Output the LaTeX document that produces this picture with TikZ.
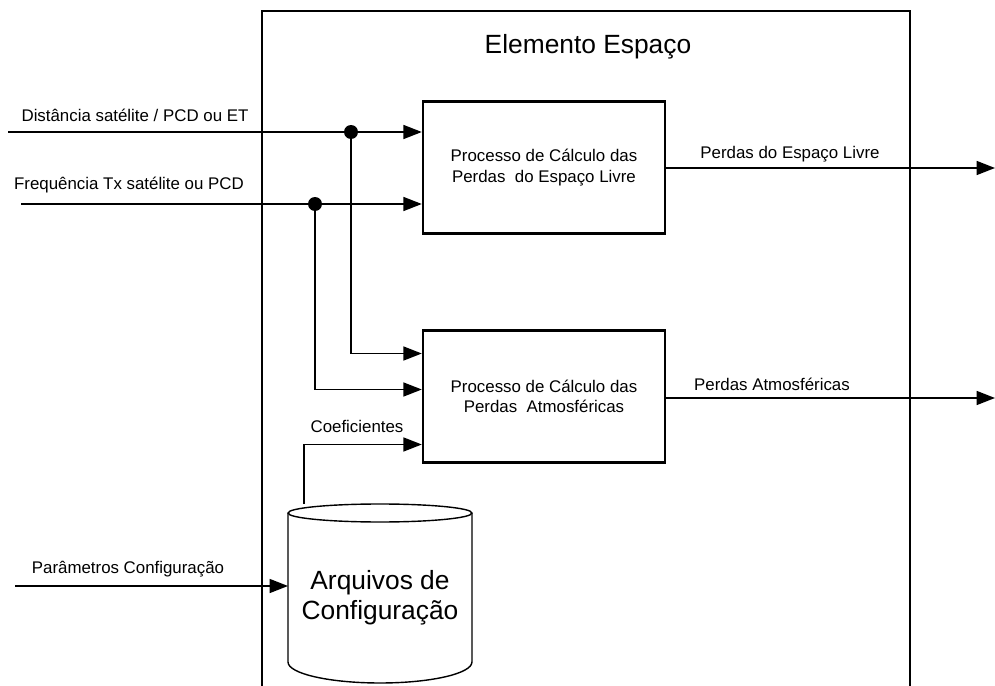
\documentclass[tikz,border=0pt]{standalone}
\usepackage{fontspec}
\setmainfont{Liberation Sans}
\usetikzlibrary{arrows.meta}
\usetikzlibrary{calc}

\begin{document}
\begin{tikzpicture}[x=0.02cm,y=-0.02cm,
    proc/.style={draw,line width=1.4pt,minimum width=4.84cm,minimum height=2.64cm,align=center,font=\fontsize{9.6}{11.5}\selectfont},
    arr/.style={line width=0.8pt,-{Triangle[length=10.5pt,width=8pt]}},
    lbl/.style={font=\fontsize{9.6}{11.5}\selectfont,inner sep=0pt}]
    \useasboundingbox (0,0) rectangle (995,686);
    % elemento espaco
    \draw[line width=0.6pt] (262,686) --(262,11) --(910,11) --(910,686);
    \node[font=\fontsize{15}{17}\selectfont] (titulo) at (588,47) {Elemento Espaço};

    \node[proc] (livre) at (544,167.5) {Processo de Cálculo das\\Perdas\ \ do Espaço Livre};
    \node[proc] (atmos) at (544,396.5) {Processo de Cálculo das\\Perdas\ \ Atmosféricas};

    % entradas
    \coordinate (dist) at (8,132);
    \coordinate (freq) at (21,204);
    \coordinate (par) at (15,586);
    \node[lbl] (distlbl) at (135,115) {Distância satélite / PCD ou ET};
    \node[lbl] (freqlbl) at (129,185) {Frequência Tx satélite ou PCD};
    \node[lbl] (parlbl) at (128,569) {Parâmetros Configuração};
    \draw[arr] (dist) --(dist -| livre.west);
    \draw[arr] (freq) --(freq -| livre.west);

    \coordinate (j1) at (351,132);
    \coordinate (j2) at (315,204);
    \fill (j1) circle (0.14cm);
    \fill (j2) circle (0.14cm);
    \draw[arr] (j1) |- ([yshift=0.86cm]atmos.west);
    \draw[arr] (j2) |- ([yshift=0.14cm]atmos.west);

    % saidas
    \coordinate (out1) at (995,168);
    \coordinate (out2) at (995,398);
    \draw[arr] (livre.east |- out1) --(out1);
    \draw[arr] (atmos.east |- out2) --(out2);
    \node[lbl] (livrelbl) at (790,154) {Perdas do Espaço Livre};
    \node[lbl] (atmoslbl) at (772,384) {Perdas Atmosféricas};

    % arquivos
    \draw[line width=0.8pt] (288,513) --(288,662) arc[start angle=180,end angle=360,x radius=1.84cm,y radius=0.42cm] --(472,513);
    \draw[line width=0.8pt] (380,513) ellipse[x radius=1.84cm,y radius=0.18cm];
    \node[align=center,font=\fontsize{15}{17}\selectfont] (arq) at (380,598) {Arquivos de\\Configuração};
    \coordinate (cyltop) at (304,504);
    \coordinate (cylleft) at (288,586);
    \draw[arr] (par) --(cylleft);
    \draw[arr] (cyltop) |- ([yshift=-0.96cm]atmos.west);
    \node[lbl] (coeflbl) at (357,426) {Coeficientes};
\end{tikzpicture}
\end{document}
